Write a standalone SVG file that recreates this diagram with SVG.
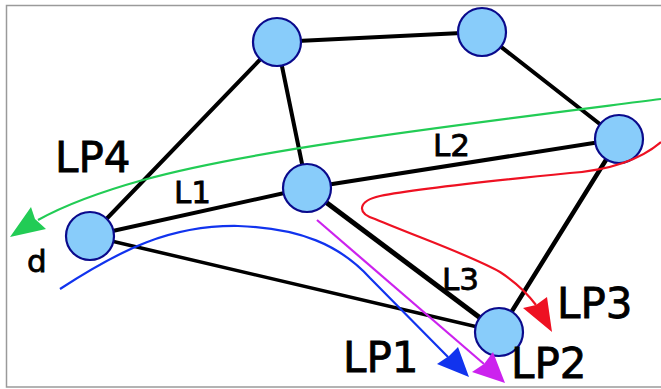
<svg xmlns="http://www.w3.org/2000/svg" width="661" height="389" viewBox="0 0 661 389">
<style>
.edge{stroke:#000;stroke-width:4;fill:none;stroke-linecap:round}
.node{fill:#88ccfa;stroke:#0a0a8c;stroke-width:2.2}
.lbl{font-family:"DejaVu Sans",sans-serif;fill:#000;stroke:#000;stroke-width:0.8}
.big{font-size:42px}
.small{font-size:31px}
.path{fill:none;stroke-width:2.2}
</style>
<rect x="6.5" y="5.5" width="700" height="381.5" fill="#fff" stroke="#9a9a9a" stroke-width="1.5"/>
<g id="connectors">
<line class="edge" x1="277" y1="42" x2="482" y2="32"/>
<line class="edge" x1="277" y1="42" x2="90" y2="236"/>
<line class="edge" x1="277" y1="42" x2="307" y2="188"/>
<line class="edge" x1="482" y1="32" x2="619" y2="139"/>
<line class="edge" x1="619" y1="139" x2="499" y2="332" style="stroke-width:4.5"/>
<line class="edge" x1="307" y1="188" x2="619" y2="139"/>
<line class="edge" x1="90" y1="236" x2="307" y2="188"/>
<line class="edge" x1="307" y1="188" x2="499" y2="332" style="stroke-width:5"/>
<line class="edge" x1="90" y1="236" x2="499" y2="332" style="stroke-width:3.5"/>
</g>
<g id="n1"><circle class="node" cx="277" cy="42" r="24"/></g>
<g id="n2"><circle class="node" cx="482" cy="32" r="24"/></g>
<g id="n3"><circle class="node" cx="619" cy="139" r="24"/></g>
<g id="n4"><circle class="node" cx="307" cy="188" r="24"/></g>
<g id="n5"><circle class="node" cx="90" cy="236" r="24"/></g>
<g id="n6"><circle class="node" cx="499" cy="332" r="24"/></g>
<g id="paths">
<path class="path" stroke="#22cc55" d="M661,99 C450,126 250,150 143,180 C100,192 65,205 38,220"/>
<path fill="#22cc55" d="M10,237 L31,207 L35,219 L46,229 Z"/>
<path class="path" stroke="#1133ee" d="M60,289 C120,250 170,225 238,226 C300,228 340,245 370,278 L448,357"/>
<path fill="#1133ee" d="M469,377 L437,364 L449,356 L458,347 Z"/>
<path class="path" stroke="#cc22ee" d="M317,220 L484,364"/>
<path fill="#cc22ee" d="M505,383 L472,372 L484,364 L493,352 Z"/>
<path class="path" stroke="#ee1122" d="M661,142 C640,160 610,170 570,173 C520,178 420,188 380,196 C358,201 356,213 375,219 C420,238 470,255 500,272 C520,285 530,297 536,305"/>
<path fill="#ee1122" d="M552,332 L523,308 L536,305 L547,297 Z"/>
</g>
<g id="labels">
<text class="lbl big" x="55" y="172">LP4</text>
<text class="lbl big" x="557" y="318">LP3</text>
<text class="lbl big" x="343" y="372">LP1</text>
<text class="lbl big" x="511" y="378">LP2</text>
<text class="lbl small" x="174" y="203">L1</text>
<text class="lbl small" x="433" y="156">L2</text>
<text class="lbl small" x="442" y="290">L3</text>
<text class="lbl small" x="27" y="272">d</text>
</g>
</svg>
